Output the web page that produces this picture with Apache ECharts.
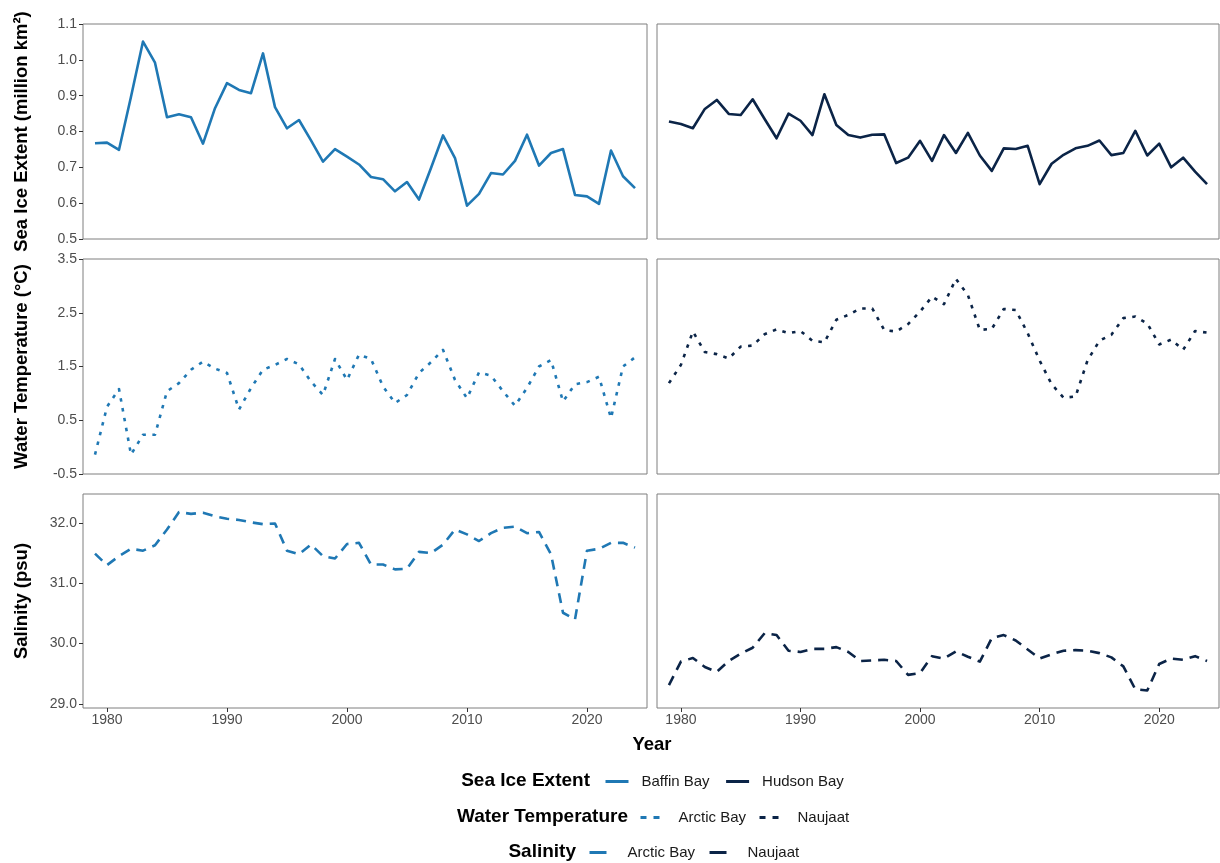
<!DOCTYPE html>
<html>
<head>
<meta charset="utf-8">
<script src="https://cdn.jsdelivr.net/npm/echarts@6/dist/echarts.min.js"></script>
<style>
  html, body { margin: 0; padding: 0; background: #ffffff; }
  #chart { width: 1220px; height: 863px; }
</style>
</head>
<body>
<div id="chart"></div>
<script>
// Annual series, 1979–2024
const years = [1979, 1980, 1981, 1982, 1983, 1984, 1985, 1986, 1987, 1988, 1989, 1990,
  1991, 1992, 1993, 1994, 1995, 1996, 1997, 1998, 1999, 2000, 2001, 2002, 2003, 2004,
  2005, 2006, 2007, 2008, 2009, 2010, 2011, 2012, 2013, 2014, 2015, 2016, 2017, 2018,
  2019, 2020, 2021, 2022, 2023, 2024];

// Sea ice extent (million km²)
const baffinIce = [0.767, 0.769, 0.749, 0.897, 1.051, 0.992, 0.840, 0.848, 0.840, 0.766,
  0.865, 0.935, 0.916, 0.907, 1.018, 0.868, 0.809, 0.832, 0.775, 0.716, 0.751, 0.730,
  0.708, 0.673, 0.667, 0.633, 0.659, 0.610, 0.698, 0.789, 0.726, 0.593, 0.626, 0.684,
  0.680, 0.718, 0.791, 0.705, 0.740, 0.751, 0.623, 0.619, 0.598, 0.747, 0.675, 0.642];
const hudsonIce = [0.828, 0.821, 0.809, 0.863, 0.888, 0.849, 0.846, 0.890, 0.835, 0.781,
  0.850, 0.830, 0.790, 0.904, 0.818, 0.790, 0.783, 0.791, 0.792, 0.712, 0.727, 0.774,
  0.718, 0.790, 0.740, 0.796, 0.733, 0.690, 0.753, 0.751, 0.760, 0.653, 0.710, 0.735,
  0.753, 0.760, 0.775, 0.734, 0.740, 0.802, 0.733, 0.766, 0.700, 0.727, 0.688, 0.653];

// Water temperature (°C)
const arcticBayTemp = [-0.14, 0.75, 1.08, -0.14, 0.23, 0.23, 1.04, 1.19, 1.44, 1.59,
  1.46, 1.38, 0.70, 1.10, 1.44, 1.53, 1.64, 1.54, 1.22, 0.97, 1.64, 1.25, 1.72, 1.64,
  1.13, 0.82, 0.97, 1.38, 1.58, 1.81, 1.25, 0.91, 1.39, 1.33, 1.04, 0.77, 1.10, 1.50,
  1.62, 0.85, 1.17, 1.21, 1.31, 0.54, 1.50, 1.67];
const naujaatTemp = [1.19, 1.53, 2.15, 1.77, 1.73, 1.65, 1.87, 1.89, 2.10, 2.19,
  2.12, 2.16, 1.98, 1.95, 2.37, 2.46, 2.58, 2.58, 2.18, 2.15, 2.29, 2.52, 2.80, 2.66,
  3.13, 2.83, 2.18, 2.20, 2.57, 2.55, 2.12, 1.61, 1.17, 0.92, 0.94, 1.61, 1.98, 2.09,
  2.40, 2.43, 2.30, 1.91, 2.00, 1.81, 2.16, 2.13];

// Salinity (psu)
const arcticBaySal = [31.49, 31.30, 31.45, 31.57, 31.54, 31.63, 31.89, 32.18, 32.15, 32.17,
  32.11, 32.07, 32.05, 32.01, 31.98, 31.99, 31.54, 31.48, 31.64, 31.45, 31.41, 31.65,
  31.67, 31.31, 31.31, 31.23, 31.24, 31.52, 31.50, 31.64, 31.89, 31.81, 31.70, 31.83,
  31.92, 31.94, 31.83, 31.85, 31.48, 30.51, 30.40, 31.54, 31.57, 31.67, 31.67, 31.59];
const naujaatSal = [29.31, 29.70, 29.76, 29.61, 29.53, 29.71, 29.83, 29.93, 30.17, 30.14,
  29.88, 29.86, 29.91, 29.91, 29.94, 29.86, 29.71, 29.72, 29.73, 29.71, 29.48, 29.51,
  29.79, 29.75, 29.87, 29.78, 29.70, 30.09, 30.14, 30.05, 29.90, 29.75, 29.82, 29.88,
  29.89, 29.88, 29.84, 29.77, 29.62, 29.24, 29.22, 29.66, 29.75, 29.73, 29.79, 29.71];

// Tick labels
const yearTicks = [1980, 1990, 2000, 2010, 2020];
const iceTicks = [0.5, 0.6, 0.7, 0.8, 0.9, 1.0, 1.1];
const tempTicks = [-0.5, 0.5, 1.5, 2.5, 3.5];
const salTicks = [29, 30, 31, 32];

const BLUE = '#1f78b4';
const NAVY = '#0b2447';
const FONT = '"Liberation Sans", Arial, Helvetica, sans-serif';
const TICK_SIZE = 14;
const TITLE_SIZE = 18.5;
const LEGEND_TITLE_SIZE = 19;
const LEGEND_TEXT_SIZE = 15;

const cols = [{ left: 83, width: 564 }, { left: 657, width: 562 }];
const rows = [
  { top: 24, height: 215, min: 0.5, max: 1.1, ticks: iceTicks, name: 'Sea Ice Extent (million km²)' },
  { top: 259, height: 215, min: -0.5, max: 3.5, ticks: tempTicks, name: 'Water Temperature (°C)' },
  { top: 494, height: 214, min: 28.93, max: 32.48, ticks: salTicks, name: 'Salinity (psu)' }
];

const grids = [], xAxes = [], yAxes = [];
rows.forEach((r, ri) => {
  cols.forEach((c, ci) => {
    grids.push({
      left: c.left, width: c.width, top: r.top, height: r.height,
      show: true, borderColor: '#7f7f7f', borderWidth: 1, backgroundColor: '#ffffff'
    });
    const gi = grids.length - 1;
    const bottomRow = ri === 2;
    xAxes.push({
      type: 'value', gridIndex: gi, min: 1978, max: 2025,
      splitLine: { show: false },
      axisLine: { show: false },
      axisTick: { show: bottomRow, length: 4, lineStyle: { color: '#333333' }, customValues: yearTicks },
      axisLabel: {
        show: bottomRow, customValues: yearTicks, margin: 5,
        color: '#4d4d4d', fontSize: TICK_SIZE, fontFamily: FONT,
        formatter: v => String(v)
      }
    });
    const leftCol = ci === 0;
    yAxes.push({
      type: 'value', gridIndex: gi, min: r.min, max: r.max,
      splitLine: { show: false },
      axisLine: { show: false },
      axisTick: { show: leftCol, length: 4, lineStyle: { color: '#333333' }, customValues: r.ticks },
      axisLabel: {
        show: leftCol, customValues: r.ticks, margin: 6,
        color: '#4d4d4d', fontSize: TICK_SIZE, fontFamily: FONT,
        formatter: v => v.toFixed(1)
      },
      name: leftCol ? r.name : '',
      nameLocation: 'middle', nameRotate: 90, nameGap: 52,
      nameTextStyle: { fontSize: TITLE_SIZE, fontWeight: 'bold', color: '#000000', fontFamily: FONT }
    });
  });
});

const pairs = vals => years.map((y, i) => [y, vals[i]]);
const DOTTED = [3.5, 6.5];
const DASHED = [10, 7];
const LW = 2.6;

function line(name, vals, gi, color, type) {
  return {
    name: name, type: 'line', xAxisIndex: gi, yAxisIndex: gi,
    data: pairs(vals), symbol: 'none', smooth: false,
    lineStyle: { color: color, width: LW, type: type, cap: 'butt', join: 'round' },
    itemStyle: { color: color },
    emphasis: { disabled: true }
  };
}

const series = [
  line('Baffin Bay', baffinIce, 0, BLUE, 'solid'),
  line('Hudson Bay', hudsonIce, 1, NAVY, 'solid'),
  line('Arctic Bay|temp', arcticBayTemp, 2, BLUE, DOTTED),
  line('Naujaat|temp', naujaatTemp, 3, NAVY, DOTTED),
  line('Arctic Bay|sal', arcticBaySal, 4, BLUE, DASHED),
  line('Naujaat|sal', naujaatSal, 5, NAVY, DASHED)
];

// Legend keys show only the line stroke, without a point marker
function legendRow(names, left, centerY, gap, pad, keyWidth, keyType) {
  return {
    data: names, left: left, top: centerY - 7, padding: 0,
    orient: 'horizontal', itemWidth: keyWidth, itemHeight: 14, itemGap: gap,
    selectedMode: false,
    formatter: n => n.split('|')[0],
    itemStyle: { color: 'rgba(0,0,0,0)', borderColor: 'rgba(0,0,0,0)', borderWidth: 0 },
    lineStyle: { width: 3, type: keyType, cap: 'butt' },
    textStyle: { fontSize: LEGEND_TEXT_SIZE, color: '#1a1a1a', fontFamily: FONT, padding: [0, 0, 0, pad] }
  };
}
const legends = [
  legendRow(['Baffin Bay', 'Hudson Bay'], 604, 781, 15, 8, 23, 'solid'),
  legendRow(['Arctic Bay|temp', 'Naujaat|temp'], 639, 817, 12, 14, 19, [6, 7]),
  legendRow(['Arctic Bay|sal', 'Naujaat|sal'], 588, 852, 13, 16, 17, 'solid')
];

const titleStyle = t => ({ text: t, font: 'bold ' + LEGEND_TITLE_SIZE + 'px ' + FONT, fill: '#000000', align: 'right', verticalAlign: 'middle' });

const option = {
  animation: false,
  backgroundColor: '#ffffff',
  textStyle: { fontFamily: FONT },
  grid: grids,
  xAxis: xAxes,
  yAxis: yAxes,
  legend: legends,
  series: series,
  graphic: [
    { type: 'text', x: 652, y: 745, style: { text: 'Year', font: 'bold ' + TITLE_SIZE + 'px ' + FONT, fill: '#000000', align: 'center', verticalAlign: 'middle' } },
    { type: 'text', x: 590, y: 781, style: titleStyle('Sea Ice Extent') },
    { type: 'text', x: 628, y: 817, style: titleStyle('Water Temperature') },
    { type: 'text', x: 576, y: 852, style: titleStyle('Salinity') }
  ]
};

const chart = echarts.init(document.getElementById('chart'), null, { renderer: 'canvas' });
chart.setOption(option);
</script>
</body>
</html>
